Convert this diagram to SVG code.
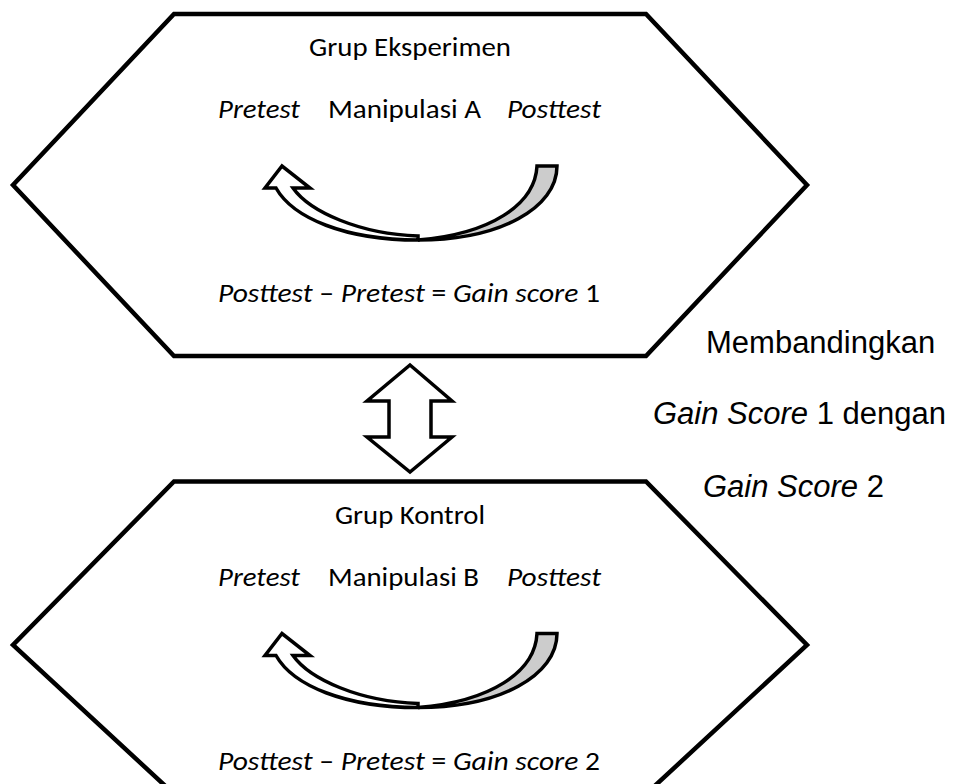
<svg xmlns="http://www.w3.org/2000/svg" width="958" height="784" viewBox="0 0 958 784">
<style>
.hex{fill:#fff;stroke:#000;stroke-width:4.5;stroke-linejoin:miter}
.cal{font-family:Carlito,Calibri,"Open Sans",sans-serif;font-size:26px;fill:#000}
.it{font-style:italic}
.ar{font-family:"Liberation Sans",Arial,sans-serif;font-size:31px;fill:#000}
.band{fill:#fff;stroke:#000;stroke-width:3.5;stroke-linejoin:miter}
.back{fill:#cccccc;stroke:#000;stroke-width:3.5;stroke-linejoin:miter}
</style>
<defs>
<g id="curl">
<path class="back" d="M537,166 L557,166 C557,208 500,240 418,240 C490,234 535,205 537,166 Z"/>
<path class="band" d="M418,240 C345,240 293,218 276,188 L265,188 L282,166 L310,188 L293,188 C310,212 360,234 418,236 Z"/>
</g>
</defs>
<g id="grup-eksperimen">
<polygon class="hex" points="174,14 646,14 807,185 646,356 174,356 13,185"/>
<text class="cal" x="410" y="56" text-anchor="middle" textLength="202" lengthAdjust="spacingAndGlyphs">Grup Eksperimen</text>
<text class="cal it" x="218" y="118" textLength="82" lengthAdjust="spacingAndGlyphs">Pretest</text>
<text class="cal" x="328" y="118" textLength="153" lengthAdjust="spacingAndGlyphs">Manipulasi A</text>
<text class="cal it" x="507" y="118" textLength="94" lengthAdjust="spacingAndGlyphs">Posttest</text>
<text class="cal" x="218" y="302" textLength="382" lengthAdjust="spacingAndGlyphs"><tspan class="it">Posttest</tspan> – <tspan class="it">Pretest</tspan> = <tspan class="it">Gain score</tspan> 1</text>
</g>
<g id="grup-kontrol">
<polygon class="hex" points="174,481.5 646,481.5 807,645 646,794 174,794 13,645"/>
<text class="cal" x="410" y="523.5" text-anchor="middle" textLength="150" lengthAdjust="spacingAndGlyphs">Grup Kontrol</text>
<text class="cal it" x="218" y="585.5" textLength="82" lengthAdjust="spacingAndGlyphs">Pretest</text>
<text class="cal" x="328" y="585.5" textLength="151" lengthAdjust="spacingAndGlyphs">Manipulasi B</text>
<text class="cal it" x="507" y="585.5" textLength="94" lengthAdjust="spacingAndGlyphs">Posttest</text>
<text class="cal" x="218" y="769.5" textLength="382" lengthAdjust="spacingAndGlyphs"><tspan class="it">Posttest</tspan> – <tspan class="it">Pretest</tspan> = <tspan class="it">Gain score</tspan> 2</text>
</g>
<g id="connectors">
<use href="#curl"/>
<use href="#curl" transform="translate(0,467.5)"/>
<polygon class="band" points="410,365 452,401 431,401 431,437 452,437 410,472 367,437 389,437 389,401 367,401"/>
</g>
<g id="membandingkan">
<text class="ar" x="706" y="353">Membandingkan</text>
<text class="ar" x="653" y="424"><tspan font-style="italic">Gain Score</tspan> 1 dengan</text>
<text class="ar" x="703" y="497"><tspan font-style="italic">Gain Score</tspan> 2</text>
</g>
</svg>
